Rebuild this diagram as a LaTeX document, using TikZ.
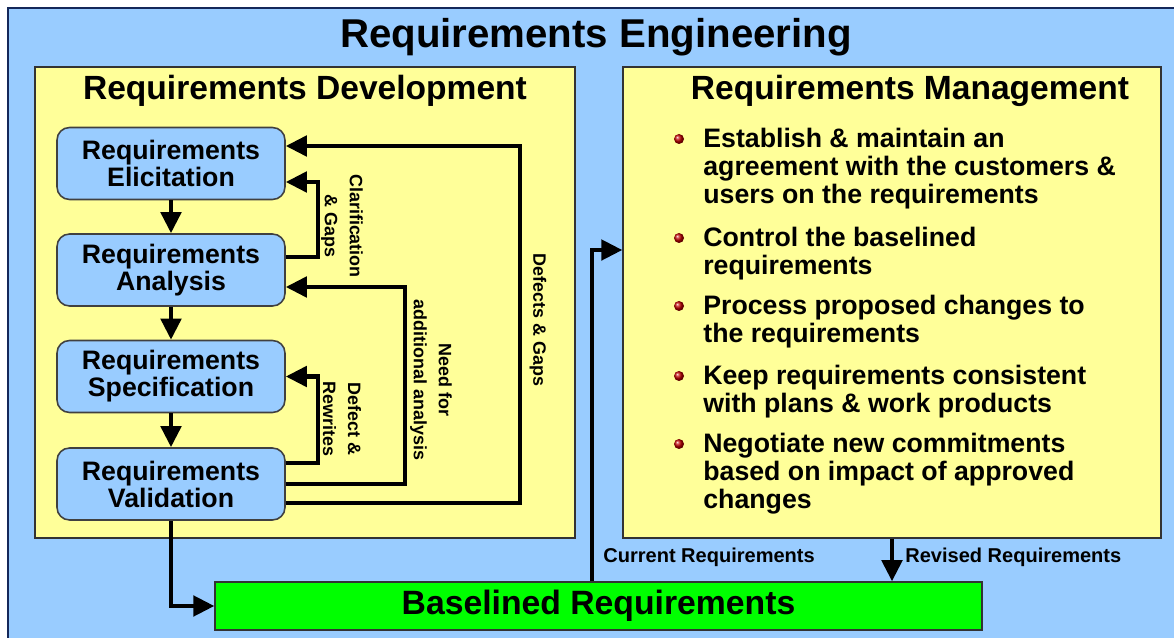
\documentclass[tikz,border=0pt]{standalone}
\usepackage{fontspec}
\setmainfont{Liberation Sans}
\usetikzlibrary{arrows.meta,positioning,calc}
\definecolor{skyblue}{RGB}{153,204,255}
\definecolor{paleyellow}{RGB}{255,255,153}
\definecolor{navyline}{RGB}{20,40,90}
\tikzset{
panel/.style = {draw=black!80, fill=paleyellow, line width=0.8pt, minimum width=10.8cm, minimum height=9.42cm},
stage/.style = {draw=black!75, fill=skyblue, rounded corners=0.25cm, line width=0.9pt, minimum width=4.56cm, minimum height=1.44cm, align=center, font=\bfseries\fontsize{15.2}{15.4}\selectfont},
flow/.style = {-{Triangle[length=12pt,width=11.5pt]}, line width=2.5pt},
note/.style = {rotate=-90, align=center, font=\bfseries\fontsize{10.2}{14.2}\selectfont},
tag/.style = {anchor=west, inner sep=0pt, font=\bfseries\fontsize{11.4}{13}\selectfont},
item/.style = {anchor=north west, inner sep=0pt, align=left, font=\bfseries\fontsize{15.2}{15.9}\selectfont},
dot/.style = {circle, inner sep=0pt, minimum size=0.2cm, ball color=red!75!black},
head/.style = {font=\bfseries\fontsize{19.1}{22}\selectfont}
}
\begin{document}
\begin{tikzpicture}[x=0.02cm, y=-0.02cm]
  \useasboundingbox (0,0) rectangle (1174,638);
  % background
  \fill[skyblue] (8,8) rectangle (1174,638);
  \draw[navyline, line width=1pt] (8,638) -- (8,8) -- (1174,8);
  \node[font=\bfseries\fontsize{22.9}{26}\selectfont] (title) at (596,37) {Requirements Engineering};

  % the two panels
  \node[panel]                          (devpanel)  at (305,302.5) {};
  \node[panel, minimum width=10.76cm]   (mgmtpanel) at (892,302.5) {};
  \node[head] (devhead)  at (305,91) {Requirements Development};
  \node[head] (mgmthead) at (910,91) {Requirements Management};

  % development stages
  \node[stage] (elic)  at (171,163.5) {Requirements\\Elicitation};
  \node[stage] (anal)  at (171,270)   {Requirements\\Analysis};
  \node[stage] (spec)  at (171,376.5) {Requirements\\Specification};
  \node[stage] (valid) at (171,484)   {Requirements\\Validation};

  \node[draw=black!80, fill=green, line width=0.8pt, minimum width=15.34cm, minimum height=0.96cm,
        font=\bfseries\fontsize{19.2}{22}\selectfont] (base) at (598.5,606) {Baselined Requirements};

  \draw[flow] (elic) -- (anal);
  \draw[flow] (anal) -- (spec);
  \draw[flow] (spec) -- (valid);

  % feedback loops
  \draw[flow] ([yshift=0.26cm]anal.east) -- ++(0.64cm,0) |- ([yshift=-0.37cm]elic.east);
  \draw[flow] ([yshift=0.42cm]valid.east) -- ++(0.64cm,0) |- (spec.east);
  \draw[flow] (valid.east) -- ++(2.38cm,0) |- ([yshift=-0.34cm]anal.east);
  \draw[flow] ([yshift=-0.38cm]valid.east) -- ++(4.68cm,0) |- ([yshift=0.35cm]elic.east);

  \node[note] (clar) at (342,226) {Clarification\\\& Gaps};
  \node[note] (rewr) at (342,419) {Defect \&\\Rewrites};
  \node[note] (need) at (431,380) {Need for\\additional analysis};
  \node[note] (defg) at (538,320) {Defects \& Gaps};

  % baseline in and out
  \draw[flow] (valid.south) |- (base.west);
  \draw[flow] ([xshift=-0.13cm]base.north) |- ([yshift=1.05cm]mgmtpanel.west);
  \draw[flow] (mgmtpanel.south) -- (mgmtpanel.south |- base.north);
  \node[tag] (cur) at (603,557) {Current Requirements};
  \node[tag] (rev) at (905,557) {Revised Requirements};

  % management duties
  \node[item] (it1) at (703,128) {Establish \& maintain an\\agreement with the customers \&\\users on the requirements};
  \node[item] (it2) at (703,227) {Control the baselined\\requirements};
  \node[item] (it3) at (703,295) {Process proposed changes to\\the requirements};
  \node[item] (it4) at (703,365) {Keep requirements consistent\\with plans \& work products};
  \node[item] (it5) at (703,433) {Negotiate new commitments\\based on impact of approved\\changes};
  \node[dot] (b1) at (679,139) {};
  \node[dot] (b2) at (679,238) {};
  \node[dot] (b3) at (679,306) {};
  \node[dot] (b4) at (679,376) {};
  \node[dot] (b5) at (679,444) {};
\end{tikzpicture}
\end{document}
